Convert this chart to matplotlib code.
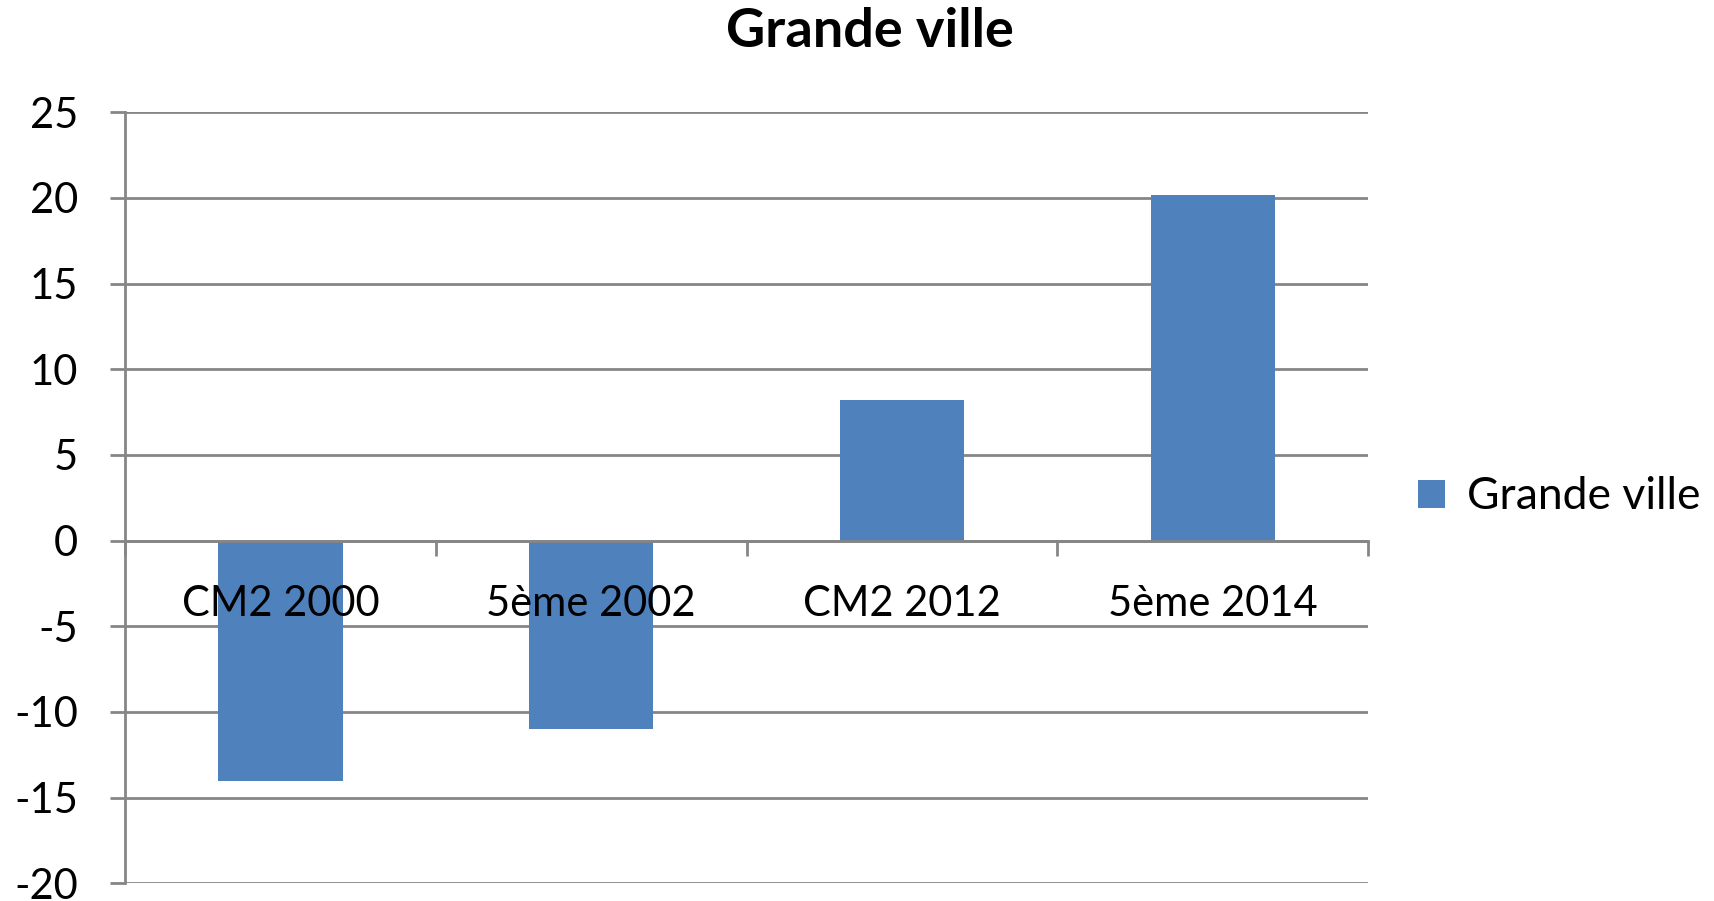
import matplotlib
matplotlib.use("Agg")
import matplotlib.pyplot as plt
import numpy as np
from matplotlib.ticker import FixedLocator

categories = ["CM2 2000", "5ème 2002", "CM2 2012", "5ème 2014"]
values = [-14, -11, 8.2, 20.2]
series_name = "Grande ville"
title = "Grande ville"
yticks = [-20, -15, -10, -5, 0, 5, 10, 15, 20, 25]

plt.rcParams['font.family'] = ['Lato', 'DejaVu Sans']

bar_color = "#4F81BD"
grid_color = "#868686"

fig = plt.figure(figsize=(17.15, 9.01), dpi=100)
ax = fig.add_axes([0.0729, 0.0196, 0.7248, 0.8558])

x = np.arange(len(categories))
# gridlines below bars, category labels (axis) above bars
for yv in yticks:
    ax.axhline(yv, color=grid_color, linewidth=2, zorder=1)
ax.bar(x, values, width=0.40, color=bar_color, zorder=2, label=series_name)
ax.set_axisbelow(False)

ax.set_xlim(-0.5, len(categories) - 0.5)
ax.set_ylim(-20, 25)
ax.set_yticks(yticks)
ax.set_yticklabels([str(v) for v in yticks])

# spines
for s in ["top", "right"]:
    ax.spines[s].set_visible(False)
ax.spines["left"].set_color(grid_color)
ax.spines["left"].set_linewidth(2)
ax.spines["bottom"].set_position(("data", 0))
ax.spines["bottom"].set_color(grid_color)
ax.spines["bottom"].set_linewidth(2)

# category labels at centres, tick marks at boundaries
ax.set_xticks(x)
ax.set_xticklabels(categories)
ax.xaxis.set_minor_locator(FixedLocator(np.arange(-0.5, len(categories), 1.0)))
ax.tick_params(axis="x", which="major", length=0, pad=32, labelsize=30)
ax.tick_params(axis="x", which="minor", length=11, width=2, color=grid_color, direction="out")
ax.tick_params(axis="y", length=11, width=2, color=grid_color, pad=23, labelsize=30)

fig.text(0.507, 0.965, title, ha="center", va="center", fontsize=39, fontweight="bold")

fig.legend(loc="center left", bbox_to_anchor=(0.8268, 0.4484), frameon=False,
           fontsize=32, handlelength=0.6, handleheight=0.6, handletextpad=0.5,
           borderpad=0, borderaxespad=0)

fig.savefig("out.png", dpi=100)
